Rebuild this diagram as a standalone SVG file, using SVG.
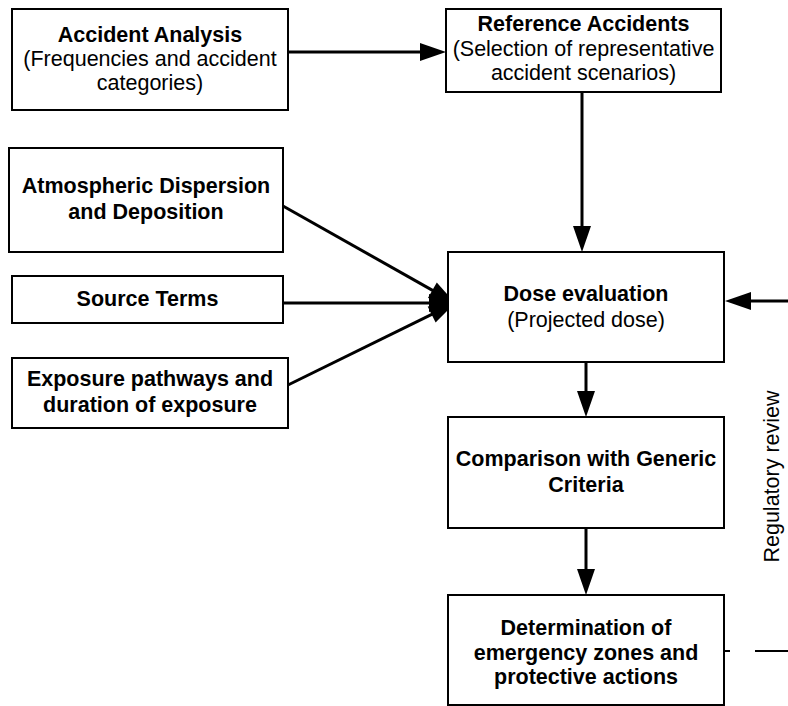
<svg xmlns="http://www.w3.org/2000/svg" width="788" height="706" viewBox="0 0 788 706">
<style>
.box{fill:#fff;stroke:#000;stroke-width:2}
.t{font-family:"Liberation Sans",Arial,sans-serif;font-size:21.5px;text-anchor:middle;fill:#000}
.b{font-weight:bold}
.c{fill:none;stroke:#000;stroke-width:3}
.d{fill:none;stroke:#000;stroke-width:2;stroke-dasharray:8 25 60}
</style>
<defs>
<marker id="ah" markerUnits="userSpaceOnUse" markerWidth="27" markerHeight="19" refX="16" refY="9" orient="auto" overflow="visible">
<path d="M0,0 L26,9 L0,18 z" fill="#000"/>
</marker>
</defs>
<rect width="788" height="706" fill="#fff"/>
<g id="connectors">
<line class="c" x1="288" y1="52" x2="436" y2="52" marker-end="url(#ah)"/>
<line class="c" x1="582" y1="92" x2="582" y2="242" marker-end="url(#ah)"/>
<line class="c" x1="283" y1="206" x2="446.3" y2="298.1" marker-end="url(#ah)"/>
<line class="c" x1="283" y1="303" x2="445" y2="303" marker-end="url(#ah)"/>
<line class="c" x1="288" y1="385" x2="446" y2="307.4" marker-end="url(#ah)"/>
<line class="c" x1="788" y1="301" x2="735" y2="301" marker-end="url(#ah)"/>
<line class="c" x1="586" y1="362" x2="586" y2="407" marker-end="url(#ah)"/>
<line class="c" x1="586" y1="528" x2="586" y2="585" marker-end="url(#ah)"/>
<path class="d" d="M722,651 H788"/>
<text class="t" transform="translate(779,476.5) rotate(-90)">Regulatory review</text>
</g>
<g id="accident-analysis">
<rect class="box" x="12" y="9" width="276" height="101"/>
<text class="t b" x="150" y="42">Accident Analysis</text>
<text class="t" x="150" y="66">(Frequencies and accident</text>
<text class="t" x="150" y="90">categories)</text>
</g>
<g id="reference-accidents">
<rect class="box" x="446" y="9" width="275" height="83"/>
<text class="t b" x="583.5" y="31">Reference Accidents</text>
<text class="t" x="583.5" y="56">(Selection of representative</text>
<text class="t" x="583.5" y="80">accident scenarios)</text>
</g>
<g id="atmospheric">
<rect class="box" x="9" y="148" width="274" height="104"/>
<text class="t b" x="146" y="193">Atmospheric Dispersion</text>
<text class="t b" x="146" y="219">and Deposition</text>
</g>
<g id="source-terms">
<rect class="box" x="12" y="276" width="271" height="47"/>
<text class="t b" x="147.5" y="306">Source Terms</text>
</g>
<g id="exposure">
<rect class="box" x="12" y="358" width="276" height="70"/>
<text class="t b" x="150" y="386">Exposure pathways and</text>
<text class="t b" x="150" y="412">duration of exposure</text>
</g>
<g id="dose-evaluation">
<rect class="box" x="448" y="252" width="276" height="110"/>
<text class="t b" x="586" y="301">Dose evaluation</text>
<text class="t" x="586" y="327">(Projected dose)</text>
</g>
<g id="comparison">
<rect class="box" x="448" y="417" width="276" height="111"/>
<text class="t b" x="586" y="466">Comparison with Generic</text>
<text class="t b" x="586" y="492">Criteria</text>
</g>
<g id="determination">
<rect class="box" x="448" y="595" width="276" height="110"/>
<text class="t b" x="586" y="635">Determination of</text>
<text class="t b" x="586" y="660">emergency zones and</text>
<text class="t b" x="586" y="684">protective actions</text>
</g>
</svg>
